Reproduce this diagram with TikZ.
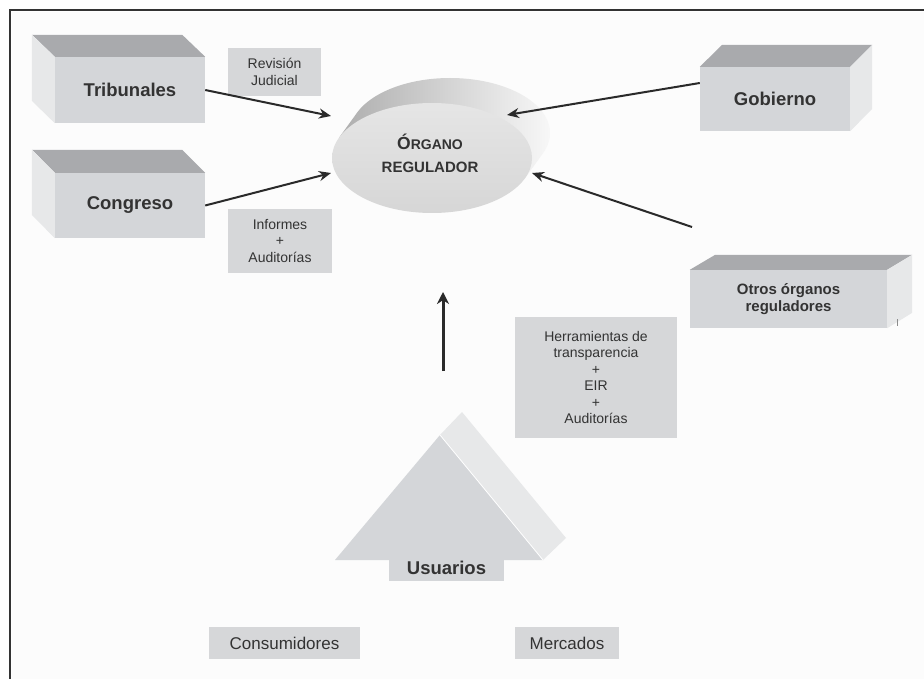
\documentclass[tikz,border=0pt]{standalone}
\usepackage{fontspec}
\setmainfont{Liberation Sans}
\usetikzlibrary{arrows.meta,calc}
\definecolor{txt}{HTML}{333333}
\definecolor{frontc}{HTML}{D4D6D9}
\definecolor{topc}{HTML}{A9AAAD}
\definecolor{sidec}{HTML}{E7E8E9}
\definecolor{labc}{HTML}{D6D7D9}
\definecolor{arrc}{HTML}{2A2A2A}
\begin{document}
\begin{tikzpicture}[x=1pt,y=-1pt,
  frontbox/.style={fill=frontc,text=txt,inner sep=0pt,font=\bfseries\fontsize{18.5}{22}\selectfont,align=center},
  labbox/.style={fill=labc,text=txt,inner sep=0pt,font=\fontsize{14}{16.5}\selectfont,align=center},
  topface/.style={fill=topc},
  sideface/.style={fill=sidec},
  arr/.style={draw=arrc,line width=2pt,-{Stealth[length=12pt,width=10pt]}},
]
\useasboundingbox (0,0) rectangle (924,679);
\fill[white] (0,0) rectangle (924,679);
\fill[black!1] (12,12) rectangle (924,679);
\draw[line width=1.3pt,txt] (10,679) -- (10,10) -- (924,10);

% Tribunales
\node[frontbox,minimum width=150,minimum height=66] (trib) at (130,90) {Tribunales};
\fill[topface] (trib.north west) -- (trib.north east) -- ++(-23,-22) -- ++(-150,0) -- cycle;
\fill[sideface] (trib.north west) -- ++(-23,-22) -- ++(0,66) -- (trib.south west) -- cycle;

% Congreso
\node[frontbox,minimum width=150,minimum height=65] (cong) at (130,205.5) {Congreso};
\fill[topface] (cong.north west) -- (cong.north east) -- ++(-23,-23) -- ++(-150,0) -- cycle;
\fill[sideface] (cong.north west) -- ++(-23,-23) -- ++(0,65) -- (cong.south west) -- cycle;

% Gobierno
\node[frontbox,minimum width=150,minimum height=64] (gob) at (775,99) {Gobierno};
\fill[topface] (gob.north west) -- (gob.north east) -- ++(22,-22) -- ++(-150,0) -- cycle;
\fill[sideface] (gob.north east) -- ++(22,-22) -- ++(0,64) -- (gob.south east) -- cycle;

% Otros organos reguladores
\node[frontbox,minimum width=197,minimum height=58,font=\bfseries\fontsize{15}{17.5}\selectfont] (otros) at (788.5,299) {Otros órganos\\reguladores};
\fill[topface] (otros.north west) -- (otros.north east) -- ++(25,-15) -- ++(-197,0) -- cycle;
\fill[sideface] (otros.north east) -- ++(25,-15) -- ++(0,58) -- (otros.south east) -- cycle;
\draw[black!45,line width=0.6pt] (897,319) -- (897,326);

% label boxes
\node[labbox,minimum width=93,minimum height=48] (rev) at (274.5,72) {Revisión\\Judicial};
\node[labbox,minimum width=104,minimum height=64] (inf) at (280,241) {Informes\\+\\Auditorías};
\node[labbox,minimum width=162,minimum height=121] (herr) at (596,377.5) {Herramientas de\\transparencia\\+\\EIR\\+\\Auditorías};
\node[labbox,minimum width=151,minimum height=32,font=\fontsize{17}{20}\selectfont] (cons) at (284.5,643) {Consumidores};
\node[labbox,minimum width=104,minimum height=32,font=\fontsize{17}{20}\selectfont] (merc) at (567,643) {Mercados};

% Organo regulador (extruded ellipse)
\shade[left color=black!32,right color=black!3]
  (432+93,158+20.2) -- plot[domain=21.6:-158.4,samples=80] ({450+100*cos(\x)},{133+55*sin(\x)}) -- (432-93,158-20.2) -- cycle;
\shade[top color=black!10,bottom color=black!16] (432,158) ellipse[x radius=100pt,y radius=55pt];
\node[text=txt,font=\bfseries\fontsize{15}{23}\selectfont,align=center,inner sep=0pt] (org) at (430,153)
  {{\fontsize{17.5}{23}\selectfont Ó}{\fontsize{14}{23}\selectfont RGANO}\\REGULADOR};

\coordinate (orgTL) at (331,116);
\coordinate (orgBL) at (331,173);
\coordinate (orgTR) at (507,115);
\coordinate (orgBR) at (532,173);
\coordinate (otrosEnd) at (692,227);

\draw[arr] (trib.east) -- (orgTL);
\draw[arr] (cong.east) -- (orgBL);
\draw[arr] ($(gob.west)+(0,-16)$) -- (orgTR);
\draw[arr] (otrosEnd) -- (orgBR);

% Usuarios pyramid
\fill[frontc] (335,560) -- (440,435) -- (543,560) -- cycle;
\fill[sideface] (440,435) -- (462,412) -- (566,538) -- (543,560) -- cycle;
\draw[white,line width=0.8pt] (440,435) -- (543,560);
\node[frontbox,minimum width=115,minimum height=26] (usu) at (446.5,568) {Usuarios};
\coordinate (usuTop) at (443,371);
\coordinate (upTip) at (443,292);
\draw[draw=arrc,line width=3pt,-{Stealth[length=12pt,width=12pt]}] (usuTop) -- (upTip);
\end{tikzpicture}
\end{document}
